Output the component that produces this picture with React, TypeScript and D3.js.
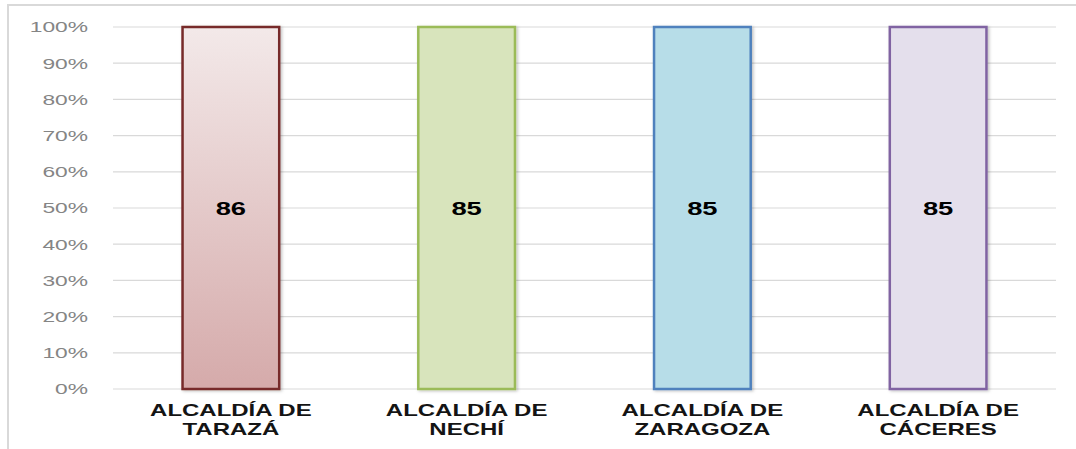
import React from "react";
import * as d3 from "d3";

const categories: string[][] = [
  ["ALCALDÍA DE", "TARAZÁ"],
  ["ALCALDÍA DE", "NECHÍ"],
  ["ALCALDÍA DE", "ZARAGOZA"],
  ["ALCALDÍA DE", "CÁCERES"],
];
const values: number[] = [86, 85, 85, 85];
const yTicks: number[] = [0, 0.1, 0.2, 0.3, 0.4, 0.5, 0.6, 0.7, 0.8, 0.9, 1];
const fillTop: string[] = ["#f3e9e9", "#d8e4bc", "#b7dde8", "#e4dfec"];
const fillBottom: string[] = ["#d5aaaa", "#d8e4bc", "#b7dde8", "#e4dfec"];
const strokes: string[] = ["#772c2a", "#9bbb59", "#4f81bd", "#8064a2"];

const W = 1076;
const H = 449;
const SX = 1.52;

export default function App() {
  const x = d3
    .scaleBand<number>()
    .domain(d3.range(categories.length))
    .range([113, 1056])
    .paddingInner(0.59)
    .paddingOuter(0.295);
  const y = d3.scaleLinear().domain([0, 1]).range([389, 27]);
  const fmt = d3.format(".0%");

  return (
    <svg
      width={W}
      height={H}
      style={{ position: "absolute", left: 0, top: 0, background: "#fff" }}
      fontFamily="'Liberation Sans', Arial, sans-serif"
    >
      <defs>
        {values.map((_, i) => (
          <linearGradient key={i} id={`g${i}`} x1="0" y1="0" x2="0" y2="1">
            <stop offset="0" stopColor={fillTop[i]} />
            <stop offset="1" stopColor={fillBottom[i]} />
          </linearGradient>
        ))}
        <filter id="sh" x="-20%" y="-5%" width="140%" height="110%">
          <feDropShadow dx="1.5" dy="1" stdDeviation="1.5" floodColor="#000" floodOpacity="0.25" />
        </filter>
      </defs>
      {/* outer frame */}
      <rect x={8} y={5} width={W + 10} height={H + 10} fill="none" stroke="#d9d9d9" strokeWidth={2} />
      {/* gridlines */}
      {yTicks.map((t) => (
        <line key={t} x1={113} x2={1056} y1={y(t)} y2={y(t)} stroke="#d9d9d9" strokeWidth={1.2} />
      ))}
      {/* y labels */}
      {yTicks.map((t) => (
        <text
          key={t}
          transform={`translate(88,${y(t) + 5.3}) scale(${SX},1)`}
          textAnchor="end"
          fontSize={15}
          fill="#858585"
        >
          {fmt(t)}
        </text>
      ))}
      {/* bars */}
      {values.map((v, i) => {
        const share = v / values[i];
        const bx = x(i)!;
        const bw = x.bandwidth();
        return (
          <g key={i}>
            <rect
              x={bx}
              y={y(share)}
              width={bw}
              height={y(0) - y(share)}
              fill={`url(#g${i})`}
              stroke={strokes[i]}
              strokeWidth={2.5}
              filter="url(#sh)"
            />
            <text
              transform={`translate(${bx + bw / 2},${y(share / 2) + 6.5}) scale(${SX},1)`}
              textAnchor="middle"
              fontSize={18}
              fontWeight="bold"
              fill="#000"
            >
              {v}
            </text>
          </g>
        );
      })}
      {/* category labels */}
      {categories.map((lines, i) => {
        const cx = x(i)! + x.bandwidth() / 2;
        return lines.map((ln, j) => (
          <text
            key={`${i}-${j}`}
            transform={`translate(${cx},${415.5 + j * 19}) scale(1.5,1)`}
            textAnchor="middle"
            fontSize={16}
            fontWeight="bold"
            fill="#141414"
          >
            {ln}
          </text>
        ));
      })}
    </svg>
  );
}
